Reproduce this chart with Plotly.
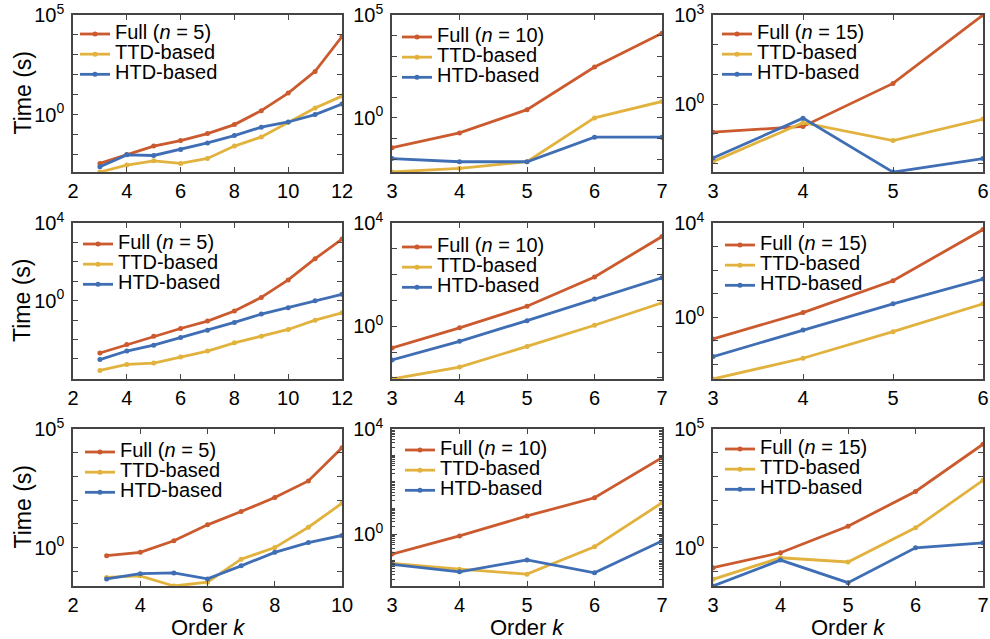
import plotly.graph_objects as go

W, H = 990, 639
FONT = "Arial, Liberation Sans, Helvetica, sans-serif"
C_FULL, C_TTD, C_HTD = "#CB5A2E", "#E2B23E", "#3F6EB4"

# ---------------- data (time in seconds) ----------------
k_3_12 = [3, 4, 5, 6, 7, 8, 9, 10, 11, 12]
k_3_10 = [3, 4, 5, 6, 7, 8, 9, 10]
k_3_7 = [3, 4, 5, 6, 7]
k_3_6 = [3, 4, 5, 6]

# row 1
r1_n5_full = [0.00355, 0.01, 0.0263, 0.05, 0.112, 0.316, 1.58, 12.0, 148, 8300]
r1_n5_ttd = [0.00132, 0.00295, 0.00479, 0.00355, 0.0063, 0.0263, 0.0759, 0.417, 2.14, 8.5]
r1_n5_htd = [0.0024, 0.00955, 0.0089, 0.0178, 0.038, 0.0891, 0.234, 0.427, 1.0, 3.39]
r1_n10_full = [0.0355, 0.186, 2.51, 295, 12900]
r1_n10_ttd = [0.00234, 0.00355, 0.0074, 1.0, 6.3]
r1_n10_htd = [0.0105, 0.0074, 0.0074, 0.115, 0.115]
r1_n15_full = [0.115, 0.178, 5.0, 1000]
r1_n15_ttd = [0.0117, 0.24, 0.06, 0.316]
r1_n15_htd = [0.0155, 0.34, 0.0052, 0.0148]

# row 2
r2_n5_full = [0.00204, 0.0055, 0.0148, 0.0372, 0.0891, 0.295, 1.48, 11.7, 145, 1480]
r2_n5_ttd = [0.000257, 0.000525, 0.000617, 0.00126, 0.00257, 0.00676, 0.0148, 0.0331, 0.1, 0.24]
r2_n5_htd = [0.000933, 0.00257, 0.00513, 0.0126, 0.0302, 0.0759, 0.204, 0.437, 1.0, 2.14]
r2_n10_full = [0.145, 0.87, 6.0, 81, 3000]
r2_n10_ttd = [0.0091, 0.0263, 0.166, 1.1, 8.1]
r2_n10_htd = [0.05, 0.263, 1.66, 11.5, 76]
r2_n15_full = [0.12, 1.58, 35.5, 5250]
r2_n15_ttd = [0.0024, 0.0182, 0.245, 3.7]
r2_n15_htd = [0.0214, 0.288, 3.7, 41.7]

# row 3
r3_n5_full = [0.457, 0.63, 1.95, 9.1, 33, 129, 646, 16200]
r3_n5_ttd = [0.055, 0.0646, 0.024, 0.0347, 0.324, 1.0, 7.2, 74]
r3_n5_htd = [0.0479, 0.0794, 0.0851, 0.0479, 0.17, 0.63, 1.62, 3.24]
r3_n10_full = [0.178, 0.87, 5.0, 24.5, 813]
r3_n10_ttd = [0.0794, 0.0479, 0.0309, 0.339, 15.8]
r3_n10_htd = [0.0724, 0.038, 0.107, 0.0347, 0.562]
r3_n15_full = [0.145, 0.617, 8.1, 234, 22900]
r3_n15_ttd = [0.0468, 0.38, 0.251, 6.9, 692]
r3_n15_htd = [0.0245, 0.302, 0.0339, 1.0, 1.62]

series_labels = ["Full (<i>n</i> = {n})", "TTD-based", "HTD-based"]
x_title = "Order <i>k</i>"
y_title = "Time (s)"

panels = [
    dict(k=k_3_12, n=5, ys=[r1_n5_full, r1_n5_ttd, r1_n5_htd], xr=[2, 12], xt=[2, 4, 6, 8, 10, 12], yr=[-2.88, 5]),
    dict(k=k_3_7, n=10, ys=[r1_n10_full, r1_n10_ttd, r1_n10_htd], xr=[3, 7], xt=[3, 4, 5, 6, 7], yr=[-2.63, 5]),
    dict(k=k_3_6, n=15, ys=[r1_n15_full, r1_n15_ttd, r1_n15_htd], xr=[3, 6], xt=[3, 4, 5, 6], yr=[-2.28, 3]),
    dict(k=k_3_12, n=5, ys=[r2_n5_full, r2_n5_ttd, r2_n5_htd], xr=[2, 12], xt=[2, 4, 6, 8, 10, 12], yr=[-4.03, 4]),
    dict(k=k_3_7, n=10, ys=[r2_n10_full, r2_n10_ttd, r2_n10_htd], xr=[3, 7], xt=[3, 4, 5, 6, 7], yr=[-2.04, 4]),
    dict(k=k_3_6, n=15, ys=[r2_n15_full, r2_n15_ttd, r2_n15_htd], xr=[3, 6], xt=[3, 4, 5, 6], yr=[-2.62, 4]),
    dict(k=k_3_10, n=5, ys=[r3_n5_full, r3_n5_ttd, r3_n5_htd], xr=[2, 10], xt=[2, 4, 6, 8, 10], yr=[-1.62, 5]),
    dict(k=k_3_7, n=10, ys=[r3_n10_full, r3_n10_ttd, r3_n10_htd], xr=[3, 7], xt=[3, 4, 5, 6, 7], yr=[-1.96, 4], minor=True),
    dict(k=k_3_7, n=15, ys=[r3_n15_full, r3_n15_ttd, r3_n15_htd], xr=[3, 7], xt=[3, 4, 5, 6, 7], yr=[-1.61, 5]),
]

# ---------------- layout geometry (pixels) ----------------
col_px = [(73, 342), (392, 662), (713, 983)]
row_px = [(15, 172), (223, 379), (429, 586)]
legend_line_start_px = [83, 405, 725, 86, 405, 728, 88, 408, 728]
legend_first_row_px = [34, 37, 34, 244, 247, 245, 452, 450, 449]
AX = "#454545"
LEG_FONT = 13.2  # controls row spacing; entry text itself is drawn at 20px

fig = go.Figure()
colors = [C_FULL, C_TTD, C_HTD]
layout = dict(
    width=W, height=H, margin=dict(l=0, r=0, t=0, b=0, autoexpand=False),
    paper_bgcolor="white", plot_bgcolor="white",
    font=dict(family=FONT, size=20, color="black"),
    annotations=[],
)
item_h = LEG_FONT * 1.3 + 3

for i, p in enumerate(panels):
    r, c = divmod(i, 3)
    idx = "" if i == 0 else str(i + 1)
    xa, ya = "x" + idx, "y" + idx
    leg = "legend" + idx
    for s, (vals, col) in enumerate(zip(p["ys"], colors)):
        name = series_labels[s].format(n=p["n"])
        fig.add_trace(go.Scatter(
            x=p["k"], y=vals, mode="lines+markers",
            name=f'<span style="font-size:20px">{name}</span>',
            line=dict(color=col, width=2.8), marker=dict(color=col, size=5),
            xaxis=xa, yaxis=ya, legend=leg, showlegend=True,
        ))
    x0, x1 = col_px[c]
    y0, y1 = row_px[r]
    lo, hi = p["yr"]
    decades = list(range(int(-(-lo // 1)), hi + 1))
    labelled = [0, hi]
    unlabelled = [10.0 ** d for d in decades if d not in labelled]
    axis_common = dict(
        showline=True, linecolor=AX, linewidth=1.6, mirror="ticks",
        ticks="inside", ticklen=5, tickwidth=1, tickcolor=AX, automargin=False,
        showgrid=False, zeroline=False, tickfont=dict(size=20, family=FONT, color="black"),
    )
    layout["xaxis" + idx] = dict(
        axis_common, domain=[x0 / W, x1 / W], anchor=ya, range=p["xr"],
        tickmode="array", tickvals=p["xt"], ticklabelstandoff=0,
    )
    minor_vals = list(unlabelled)
    minor_len = 5
    if p.get("minor"):
        minor_vals += [m * 10.0 ** d for d in range(int(lo) - 1, hi) for m in range(2, 10)]
        minor_len = 3
    layout["yaxis" + idx] = dict(
        axis_common, domain=[1 - y1 / H, 1 - y0 / H], anchor=xa, type="log", range=[lo, hi],
        tickmode="array", tickvals=[10.0 ** d for d in labelled],
        ticktext=[f"10<sup>{d}</sup>" for d in labelled], ticklabelstandoff=3,
        minor=dict(ticks="inside", ticklen=minor_len, tickwidth=1, tickcolor=AX,
                   tickmode="array", tickvals=minor_vals, showgrid=False),
    )
    leg_top = legend_first_row_px[i] - (item_h / 2 + 5)
    layout[leg] = dict(
        x=(legend_line_start_px[i] - 8) / W, y=1 - leg_top / H, xanchor="left", yanchor="top",
        bgcolor="rgba(0,0,0,0)", borderwidth=0, itemwidth=30, tracegroupgap=0,
        font=dict(size=LEG_FONT, family=FONT, color="black"),
    )
    if c == 0:
        layout["annotations"].append(dict(
            text=y_title, xref="paper", yref="paper", x=22 / W, y=1 - (y0 + y1) / 2 / H,
            xanchor="center", yanchor="middle", textangle=-90, showarrow=False,
            font=dict(size=23, family=FONT, color="black"),
        ))
    if r == 2:
        layout["annotations"].append(dict(
            text=x_title, xref="paper", yref="paper", x=(x0 + x1) / 2 / W, y=1 - 627 / H,
            xanchor="center", yanchor="middle", showarrow=False,
            font=dict(size=22, family=FONT, color="black"),
        ))

fig.update_layout(**layout)
fig.write_html("out.html", config={"displayModeBar": False},
               post_script="document.body.style.margin='0px';")
